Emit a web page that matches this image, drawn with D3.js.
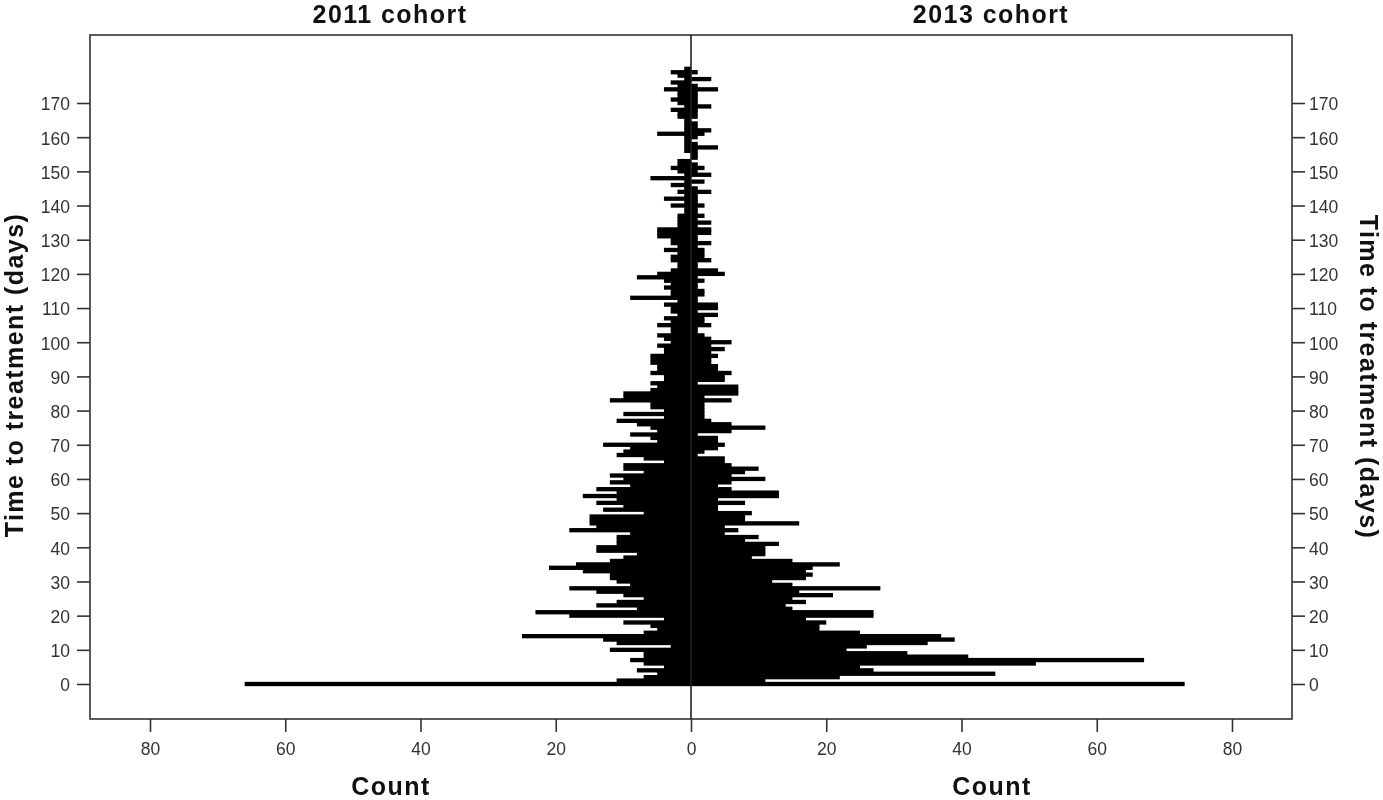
<!DOCTYPE html>
<html>

<head>
    <meta charset="utf-8">
    <script src="https://d3js.org/d3.v7.min.js"></script>
</head>
<style>
    html, body {
        margin: 0;
        background: white;
    }

    svg {
        display: block;
        filter: blur(0.45px);
    }

    .axis path {
        display: none;
    }

    .axis line {
        stroke: #333;
        stroke-width: 1.6;
    }

    .axis text {
        font-family: "Liberation Sans", sans-serif;
        font-size: 17.5px;
        fill: #333;
    }

    .title {
        font-family: "Liberation Sans", sans-serif;
        font-weight: bold;
        font-size: 25px;
        letter-spacing: 1.45px;
        fill: #111;
        text-anchor: middle;
    }
</style>

<body>
    <script>
        // counts per day, index = days to treatment (0..180)
        var cohort2011 = [
            66, 11, 7, 5, 8, 4, 7, 9, 7, 7, 12, 3, 11, 13, 25, 7, 5, 6, 10, 4,
            18, 23, 8, 14, 11, 7, 10, 14, 18, 9, 11, 12, 12, 16, 21, 17, 12, 10, 8, 14,
            14, 11, 11, 11, 9, 18, 14, 15, 15, 15, 7, 13, 10, 14, 11, 16, 11, 14, 9, 12,
            10, 12, 7, 10, 10, 4, 7, 11, 10, 9, 13, 5, 6, 9, 5, 6, 8, 11, 4, 10,
            4, 6, 6, 12, 10, 10, 6, 5, 6, 4, 4, 6, 5, 5, 6, 6, 6, 4, 4, 5,
            3, 4, 5, 3, 3, 5, 3, 4, 2, 3, 3, 4, 2, 9, 3, 3, 4, 3, 4, 8,
            5, 3, 2, 2, 3, 3, 2, 4, 2, 3, 3, 5, 5, 5, 2, 2, 2, 2, 1, 1,
            3, 1, 4, 1, 2, 1, 3, 1, 6, 1, 2, 3, 2, 2, 0, 0, 1, 1, 1, 1,
            1, 5, 1, 1, 1, 1, 2, 2, 3, 1, 2, 3, 2, 2, 4, 2, 3, 1, 2, 3, 1
        ];
        var cohort2013 = [
            73, 11, 22, 45, 27, 25, 51, 67, 41, 32, 23, 26, 35, 39, 37, 25, 19, 19, 20, 17,
            27, 27, 15, 14, 17, 15, 21, 16, 28, 15, 12, 17, 18, 17, 18, 22, 15, 9, 11, 11,
            11, 13, 8, 10, 5, 7, 5, 16, 8, 8, 9, 4, 4, 8, 4, 13, 13, 6, 4, 6,
            11, 6, 8, 10, 6, 5, 5, 1, 2, 4, 5, 4, 4, 1, 6, 11, 6, 3, 2, 2,
            2, 2, 2, 6, 2, 7, 7, 7, 1, 5, 5, 6, 4, 4, 3, 3, 4, 3, 5, 3,
            6, 3, 2, 1, 1, 3, 2, 2, 4, 1, 4, 4, 1, 1, 2, 2, 1, 1, 2, 1,
            5, 4, 1, 1, 3, 2, 2, 2, 1, 3, 1, 1, 3, 3, 1, 3, 1, 2, 1, 1,
            2, 1, 1, 1, 3, 1, 0, 2, 0, 3, 1, 2, 1, 0, 1, 1, 1, 4, 1, 0,
            1, 2, 3, 1, 1, 0, 1, 1, 1, 3, 1, 1, 1, 1, 4, 1, 0, 3, 0, 1, 0
        ];
        var dayTicks = [0, 10, 20, 30, 40, 50, 60, 70, 80, 90, 100, 110, 120, 130, 140, 150, 160, 170];
        var countTicks = [0, 20, 40, 60, 80];

        var svgWidth = 1383,
            svgHeight = 800;
        var frame = { left: 90, right: 1292, top: 35, bottom: 719 };
        var centre = 691;

        var svg = d3.select('body')
            .append('svg')
            .attr('width', svgWidth)
            .attr('height', svgHeight);

        var y = d3.scaleLinear().domain([0, 170]).range([684, 103]);
        var xLeft = d3.scaleLinear().domain([0, 80]).range([centre, 150]);
        var xRight = d3.scaleLinear().domain([0, 80]).range([centre, 1232]);
        var barHeight = Math.abs(y(1) - y(0)) + 0.9;

        function drawBars(values, x, side) {
            svg.append('g')
                .selectAll('rect')
                .data(values)
                .enter()
                .append('rect')
                .attr('x', function (d) { return side === 'left' ? x(d) : centre; })
                .attr('y', function (d, i) { return y(i) - barHeight / 2; })
                .attr('width', function (d) { return Math.abs(x(d) - centre); })
                .attr('height', barHeight)
                .attr('fill', '#000');
        }
        drawBars(cohort2011, xLeft, 'left');
        drawBars(cohort2013, xRight, 'right');

        // frame and centre line
        svg.append('rect')
            .attr('x', frame.left)
            .attr('y', frame.top)
            .attr('width', frame.right - frame.left)
            .attr('height', frame.bottom - frame.top)
            .attr('fill', 'none')
            .attr('stroke', '#333')
            .attr('stroke-width', 1.6);
        svg.append('line')
            .attr('x1', centre).attr('x2', centre)
            .attr('y1', frame.top).attr('y2', frame.bottom)
            .attr('stroke', '#222')
            .attr('stroke-width', 1.6);

        // axes
        var leftAxis = svg.append('g')
            .attr('class', 'axis')
            .attr('transform', 'translate(' + frame.left + ',0)')
            .call(d3.axisLeft(y).tickValues(dayTicks).tickSize(13).tickPadding(7));
        var rightAxis = svg.append('g')
            .attr('class', 'axis')
            .attr('transform', 'translate(' + frame.right + ',0)')
            .call(d3.axisRight(y).tickValues(dayTicks).tickSize(13).tickPadding(4));
        leftAxis.selectAll('text').attr('dy', '0.39em');
        rightAxis.selectAll('text').attr('dy', '0.39em');
        svg.append('g')
            .attr('class', 'axis')
            .attr('transform', 'translate(0,' + frame.bottom + ')')
            .call(d3.axisBottom(xLeft).tickValues(countTicks.slice(1)).tickSize(13).tickPadding(11));
        svg.append('g')
            .attr('class', 'axis')
            .attr('transform', 'translate(0,' + frame.bottom + ')')
            .call(d3.axisBottom(xRight).tickValues(countTicks).tickSize(13).tickPadding(11));

        // titles
        function title(text, px, py, rotate) {
            svg.append('text')
                .attr('class', 'title')
                .attr('transform', 'translate(' + px + ',' + py + ') rotate(' + rotate + ')')
                .text(text);
        }
        title('2011 cohort', 390, 23, 0);
        title('2013 cohort', 991, 23, 0);
        title('Count', 391, 794.5, 0);
        title('Count', 992, 794.5, 0);
        title('Time to treatment (days)', 23, 375, -90);
        title('Time to treatment (days)', 1360, 377, 90);
    </script>
</body>

</html>
